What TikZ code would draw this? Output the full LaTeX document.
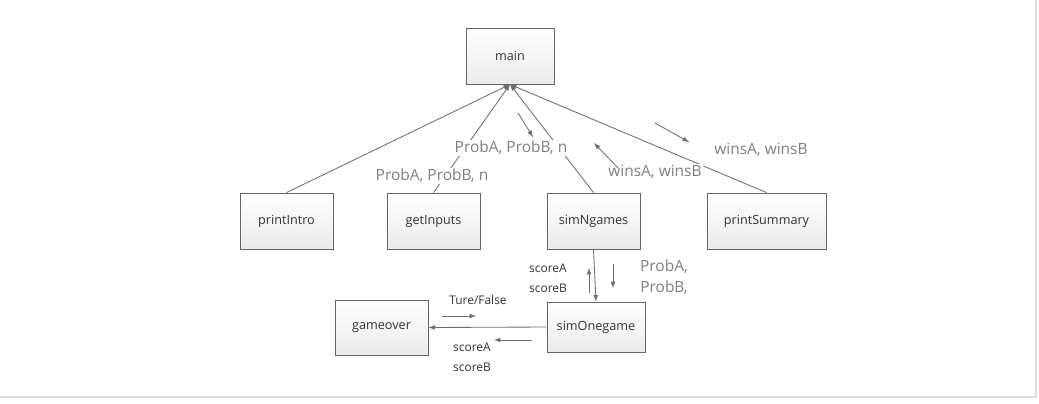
\documentclass[tikz,border=0pt]{standalone}
\usepackage{fontspec}
\setmainfont{Open Sans}
\usetikzlibrary{shadows}
\definecolor{linegray}{HTML}{6E6E6E}
\definecolor{labelgray}{HTML}{808080}
\definecolor{boxline}{HTML}{666666}
\definecolor{textdark}{HTML}{333333}
\definecolor{framegray}{HTML}{DDDDDD}
\tikzset{
  func/.style={draw=boxline, line width=0.6pt, top color=white, bottom color=gray!16,
    minimum width=2.325cm, minimum height=1.4cm, inner sep=0pt,
    font=\fontsize{9}{11}\selectfont, text=textdark,
    drop shadow={shadow xshift=0.7pt, shadow yshift=-0.7pt, opacity=0.3}},
  conn/.style={->, >=latex, draw=linegray, line width=0.6pt},
  biglabel/.style={fill=white, inner sep=1pt, text=labelgray, font=\fontsize{11}{15}\selectfont},
  smalllabel/.style={inner sep=1pt, text=textdark, align=left, font=\fontsize{8.5}{14.5}\selectfont}
}
\begin{document}
\begin{tikzpicture}[x=0.025cm,y=-0.025cm]
  \fill[white] (0,0) rectangle (1039,403);
  \useasboundingbox (0,0) rectangle (1039,403);
  \draw[framegray, line width=1.2pt] (0,397) -- (1036,397) -- (1036,0);

  % modules
  \node[func, minimum width=2.2cm] (main) at (510,56) {main};
  \node[func] (printIntro) at (286.5,221) {printIntro};
  \node[func] (getInputs) at (433.5,221) {getInputs};
  \node[func] (simNgames) at (593.5,221) {simNgames};
  \node[func, minimum width=2.975cm] (printSummary) at (766.5,221) {printSummary};
  \node[func, minimum height=1.375cm] (gameover) at (381.5,327.5) {gameover};
  \node[func, minimum width=2.45cm, minimum height=1.25cm] (simOnegame) at (596,327) {simOnegame};

  % calls
  \draw[conn] (printIntro.north) -- (main.south);
  \draw[conn] (getInputs.north) -- (main.south);
  \draw[conn] (simNgames.north) -- (main.south);
  \draw[conn] (printSummary.north) -- (main.south);
  \draw[conn] (simNgames.south) -- (simOnegame.north);
  \draw[conn] (simOnegame.west) -- (gameover.east);

  % passed values
  \node[biglabel] (inLow) at (432,176) {ProbA, ProbB, n};
  \node[biglabel] (inHigh) at (511,148) {ProbA, ProbB, n};
  \node[biglabel] (winsLow) at (655,172) {winsA, winsB};
  \node[biglabel] (winsHigh) at (761,150) {winsA, winsB};
  \node[biglabel, align=center] (probDown) at (664,277) {ProbA,\\ProbB,};
  \node[smalllabel] (scoreUp) at (548,278) {scoreA\\scoreB};
  \node[smalllabel] (tureFalse) at (478,300) {Ture/False};
  \node[smalllabel] (scoreLeft) at (472,357) {scoreA\\scoreB};

  % flow arrows
  \coordinate (inA) at (518,113);   \coordinate (inB) at (533,137);
  \coordinate (wnA) at (618,168);   \coordinate (wnB) at (594,143);
  \coordinate (smA) at (655,123);   \coordinate (smB) at (689,142);
  \coordinate (upA) at (589,293);   \coordinate (upB) at (589,268);
  \coordinate (dnA) at (613,264);   \coordinate (dnB) at (613,288);
  \coordinate (tfA) at (442,316);   \coordinate (tfB) at (476,316);
  \coordinate (scA) at (532,340);   \coordinate (scB) at (494,340);
  \draw[conn] (inA) -- (inB);
  \draw[conn] (wnA) -- (wnB);
  \draw[conn] (smA) -- (smB);
  \draw[conn] (upA) -- (upB);
  \draw[conn] (dnA) -- (dnB);
  \draw[conn] (tfA) -- (tfB);
  \draw[conn] (scA) -- (scB);
\end{tikzpicture}
\end{document}
